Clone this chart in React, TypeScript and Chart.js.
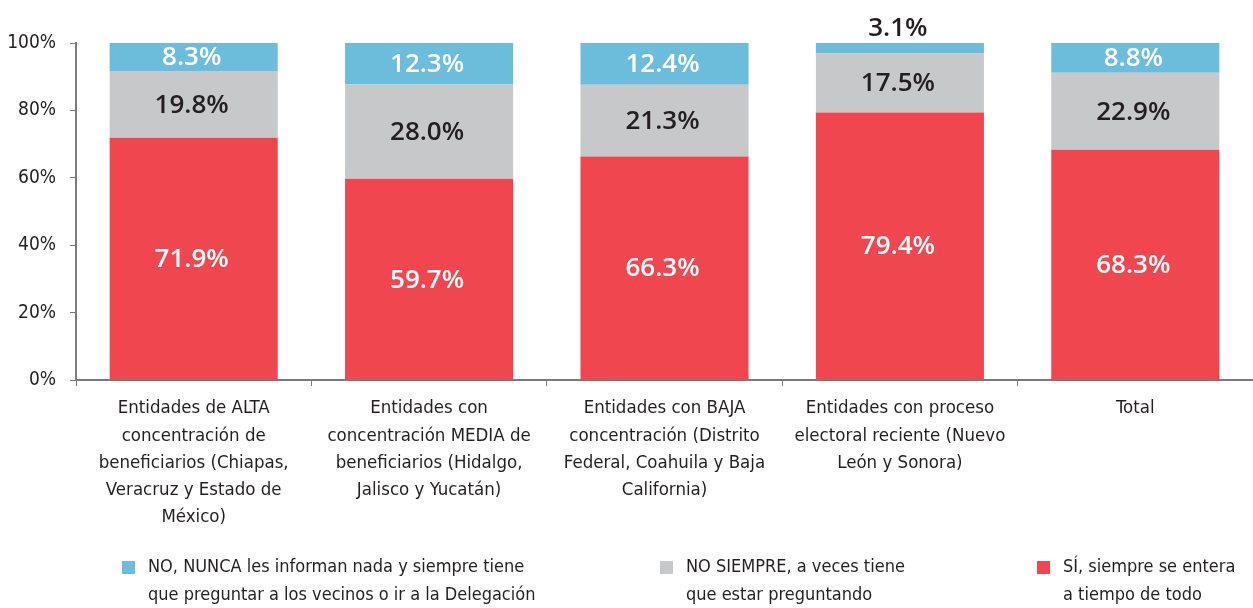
import React, { useEffect, useRef } from "react";
import { Chart, registerables } from "chart.js";

Chart.register(...registerables);

const categories: string[][] = [
  ["Entidades de ALTA", "concentración de", "beneficiarios (Chiapas,", "Veracruz y Estado de", "México)"],
  ["Entidades con", "concentración MEDIA de", "beneficiarios (Hidalgo,", "Jalisco y Yucatán)"],
  ["Entidades con BAJA", "concentración (Distrito", "Federal, Coahuila y Baja", "California)"],
  ["Entidades con proceso", "electoral reciente (Nuevo", "León y Sonora)"],
  ["Total"],
];

const siValues = [71.9, 59.7, 66.3, 79.4, 68.3];
const noSiempreValues = [19.8, 28.0, 21.3, 17.5, 22.9];
const noNuncaValues = [8.3, 12.3, 12.4, 3.1, 8.8];

const siLabel = ["SÍ, siempre se entera", "a tiempo de todo"];
const noSiempreLabel = ["NO SIEMPRE, a veces tiene", "que estar preguntando"];
const noNuncaLabel = ["NO, NUNCA les informan nada y siempre tiene", "que preguntar a los vecinos o ir a la Delegación"];

const yMin = 0;
const yMax = 100;
const yStep = 20;

const RED = "#ef4650";
const GRAY = "#c7c8ca";
const BLUE = "#6cbcdc";
const TEXT = "#231f20";
const AXIS = "#7a7a7a";

const COND = "'DejaVu Sans Condensed', 'Liberation Sans Narrow', sans-serif";
const LABEL_FONT = "600 26px 'Open Sans', 'DejaVu Sans', sans-serif";

const valueLabelsPlugin = {
  id: "valueLabels",
  afterDatasetsDraw(chart: any) {
    const ctx = chart.ctx;
    ctx.save();
    ctx.font = LABEL_FONT;
    ctx.textAlign = "center";
    ctx.textBaseline = "middle";
    chart.data.datasets.forEach((ds: any, di: number) => {
      const meta = chart.getDatasetMeta(di);
      meta.data.forEach((bar: any, i: number) => {
        const v = ds.data[i];
        const top = Math.min(bar.y, bar.base);
        const bottom = Math.max(bar.y, bar.base);
        const h = bottom - top;
        let y = (top + bottom) / 2;
        let color = ds.valueColor;
        if (h < 18) {
          y = top - 15;
          color = TEXT;
        }
        ctx.fillStyle = color;
        ctx.fillText(v.toFixed(1) + "%", bar.x - 2, y + 1);
      });
    });
    ctx.restore();
  },
};

const customLegendPlugin = {
  id: "customLegend",
  afterDraw(chart: any) {
    const ctx = chart.ctx;
    const order = [2, 1, 0];
    const xs = [122, 660, 1037];
    ctx.save();
    ctx.font = "18px " + COND;
    ctx.textAlign = "left";
    ctx.textBaseline = "middle";
    order.forEach((di, k) => {
      const ds = chart.data.datasets[di];
      const x = xs[k];
      ctx.fillStyle = ds.backgroundColor;
      ctx.fillRect(x, 561, 13, 13);
      ctx.fillStyle = TEXT;
      (ds.legendLines as string[]).forEach((line, li) => {
        ctx.fillText(line, x + 26, 567 + li * 28);
      });
    });
    ctx.restore();
  },
};

export default function App() {
  const ref = useRef<HTMLCanvasElement | null>(null);

  useEffect(() => {
    document.body.style.margin = "0";
    const canvas = ref.current;
    if (!canvas) return;
    const chart = new Chart(canvas, {
      type: "bar",
      data: {
        labels: categories,
        datasets: [
          { label: siLabel.join(" "), data: siValues, backgroundColor: RED, valueColor: "#ffffff", legendLines: siLabel } as any,
          { label: noSiempreLabel.join(" "), data: noSiempreValues, backgroundColor: GRAY, valueColor: TEXT, legendLines: noSiempreLabel } as any,
          { label: noNuncaLabel.join(" "), data: noNuncaValues, backgroundColor: BLUE, valueColor: "#ffffff", legendLines: noNuncaLabel } as any,
        ],
      },
      options: {
        animation: false,
        responsive: false,
        maintainAspectRatio: false,
        layout: { padding: { top: 43, left: 0, right: 0, bottom: 0 } },
        datasets: { bar: { barPercentage: 0.714, categoryPercentage: 1 } },
        plugins: {
          legend: { display: false },
          tooltip: { enabled: false },
        },
        scales: {
          x: {
            stacked: true,
            grid: { drawOnChartArea: false, drawTicks: true, tickLength: 6, color: AXIS, offset: true },
            border: { color: AXIS, width: 2 },
            ticks: {
              color: TEXT,
              font: { family: COND, size: 18.5, lineHeight: 1.47 } as any,
              padding: 9,
              maxRotation: 0,
              autoSkip: false,
            },
            afterFit(scale: any) {
              scale.height = 228;
            },
          },
          y: {
            stacked: true,
            min: yMin,
            max: yMax,
            grid: { drawOnChartArea: false, drawTicks: true, tickLength: 6, color: AXIS },
            border: { color: AXIS, width: 2 },
            ticks: {
              stepSize: yStep,
              color: TEXT,
              font: { family: COND, size: 19 },
              padding: 14,
              callback: (v: any) => v + "%",
            },
            afterFit(scale: any) {
              scale.width = 76;
            },
          },
        },
      },
      plugins: [valueLabelsPlugin, customLegendPlugin],
    });
    return () => chart.destroy();
  }, []);

  return (
    <div style={{ position: "absolute", left: 0, top: 0, width: 1253, height: 608 }}>
      <canvas ref={ref} width={1253} height={608} style={{ width: 1253, height: 608 }} />
    </div>
  );
}
